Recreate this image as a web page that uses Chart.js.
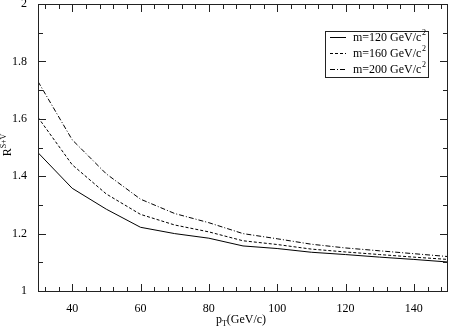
<!DOCTYPE html>
<html>
<head>
<meta charset="utf-8">
<script src="https://cdn.jsdelivr.net/npm/chart.js@4.4.0/dist/chart.umd.min.js"></script>
<style>
  html, body { margin: 0; padding: 0; background: #fff; }
  canvas { display: block; }
</style>
</head>
<body>
<canvas id="grafica" width="449" height="329"></canvas>
<script>
// pT values (GeV/c)
let pt = [30, 40, 50, 60, 70, 80, 90, 100, 110, 120, 130, 140, 150];
// R^{S+V} for the three masses
let m120 = [1.482, 1.358, 1.285, 1.222, 1.200, 1.184, 1.157, 1.148, 1.135, 1.127, 1.118, 1.110, 1.101];
let m160 = [1.605, 1.440, 1.338, 1.267, 1.230, 1.206, 1.175, 1.162, 1.146, 1.136, 1.127, 1.118, 1.110];
let m200 = [1.730, 1.527, 1.408, 1.320, 1.270, 1.238, 1.200, 1.182, 1.163, 1.150, 1.140, 1.130, 1.120];
let nombres = ['m=120 GeV/c', 'm=160 GeV/c', 'm=200 GeV/c'];
let xTicks = [40, 60, 80, 100, 120, 140];
let yTicks = [1, 1.2, 1.4, 1.6, 1.8, 2];

let fuente = '"Liberation Serif", "DejaVu Serif", serif';
let trazos = [[], [3, 2], [5, 2, 1, 2]];

function puntos(serie){
  return pt.map((x, i) => ({x: x, y: serie[i]}));
}

let marco = {
  id: 'marco',
  afterDraw(chart){
    let ctx = chart.ctx;
    let a = chart.chartArea;
    let sx = chart.scales.x, sy = chart.scales.y;
    ctx.save();
    ctx.setLineDash([]);
    ctx.fillStyle = '#222';
    let izq = Math.round(a.left), der = Math.round(a.right) - 1;
    let arr = Math.round(a.top), aba = Math.round(a.bottom);
    // frame
    ctx.fillRect(izq, arr, der - izq + 1, 1);
    ctx.fillRect(izq, aba, der - izq + 1, 1);
    ctx.fillRect(izq, arr, 1, aba - arr + 1);
    ctx.fillRect(der, arr, 1, aba - arr + 1);

    // inward ticks on all four sides
    for(let k = 0; k < 30; k++){
      let v = 32 + 4 * k;
      let px = Math.round(sx.getPixelForValue(v));
      let len = ((v - 40) % 20 === 0) ? 7 : 4;
      ctx.fillRect(px, aba - len, 1, len);
      ctx.fillRect(px, arr + 1, 1, len);
    }
    for(let k = 1; k < 10; k++){
      let py = Math.round(sy.getPixelForValue(1 + k / 10));
      let len = (k % 2 === 0) ? 7 : 4;
      ctx.fillRect(izq + 1, py, len, 1);
      ctx.fillRect(der - len, py, len, 1);
    }

    // legend
    ctx.strokeStyle = '#222';
    ctx.lineWidth = 1;
    ctx.strokeRect(325.5, 31.5, 103, 46);
    ctx.fillStyle = '#000';
    ctx.textBaseline = 'middle';
    ctx.textAlign = 'left';
    nombres.forEach((n, i) => {
      let y = 37.5 + i * 16;
      ctx.strokeStyle = '#000';
      ctx.setLineDash(trazos[i]);
      ctx.beginPath();
      ctx.moveTo(330, y); ctx.lineTo(346, y);
      ctx.stroke();
      ctx.setLineDash([]);
      ctx.font = '12px ' + fuente;
      ctx.fillText(n, 353, y);
      let w = ctx.measureText(n).width;
      ctx.font = '8px ' + fuente;
      ctx.fillText('2', 353 + w + 0.5, y - 5);
    });

    // x title
    ctx.textBaseline = 'alphabetic';
    ctx.font = '12px ' + fuente;
    let wp = ctx.measureText('p').width;
    let wr = ctx.measureText('(GeV/c)').width;
    ctx.font = '8px ' + fuente;
    let wt = ctx.measureText('T').width;
    let x0 = 241 - (wp + wt + wr) / 2;
    ctx.font = '12px ' + fuente;
    ctx.fillText('p', x0, 323);
    ctx.font = '8px ' + fuente;
    ctx.fillText('T', x0 + wp, 326);
    ctx.font = '12px ' + fuente;
    ctx.fillText('(GeV/c)', x0 + wp + wt, 323);

    // y title
    ctx.translate(10.5, 145);
    ctx.rotate(-Math.PI / 2);
    ctx.font = '12px ' + fuente;
    let wR = ctx.measureText('R').width;
    ctx.font = '8px ' + fuente;
    let wS = ctx.measureText('S+V').width;
    let y0 = -(wR + wS) / 2;
    ctx.font = '12px ' + fuente;
    ctx.fillText('R', y0, 0);
    ctx.font = '8px ' + fuente;
    ctx.fillText('S+V', y0 + wR, -5);
    ctx.restore();
  }
};

let grafica = document.querySelector('#grafica').getContext('2d');

new Chart(grafica, {
  type: 'line',
  data: {
    datasets: [m120, m160, m200].map((s, i) => ({
      label: nombres[i],
      data: puntos(s),
      borderColor: '#000',
      borderWidth: 1,
      borderDash: trazos[i],
      pointRadius: 0,
      tension: 0,
      fill: false
    }))
  },
  options: {
    responsive: false,
    animation: false,
    layout: { padding: { top: 4, right: 1, left: 0, bottom: 0 } },
    plugins: { legend: { display: false }, tooltip: { enabled: false } },
    scales: {
      x: {
        type: 'linear',
        min: 30,
        max: 150,
        grid: { display: false },
        border: { display: false },
        afterBuildTicks: s => { s.ticks = xTicks.map(v => ({value: v})); },
        afterFit: s => { s.height = 38; s.paddingLeft = 0; s.paddingRight = 0; },
        ticks: {
          color: '#000',
          font: { family: fuente, size: 12 },
          padding: 3,
          maxRotation: 0,
          callback: v => String(v)
        }
      },
      y: {
        min: 1,
        max: 2,
        grid: { display: false },
        border: { display: false },
        afterBuildTicks: s => { s.ticks = yTicks.map(v => ({value: v})); },
        afterFit: s => { s.width = 38; s.paddingTop = 0; s.paddingBottom = 0; },
        ticks: {
          color: '#000',
          font: { family: fuente, size: 12 },
          padding: 3,
          callback: v => String(Math.round(v * 10) / 10)
        }
      }
    }
  },
  plugins: [marco]
});
</script>
</body>
</html>
